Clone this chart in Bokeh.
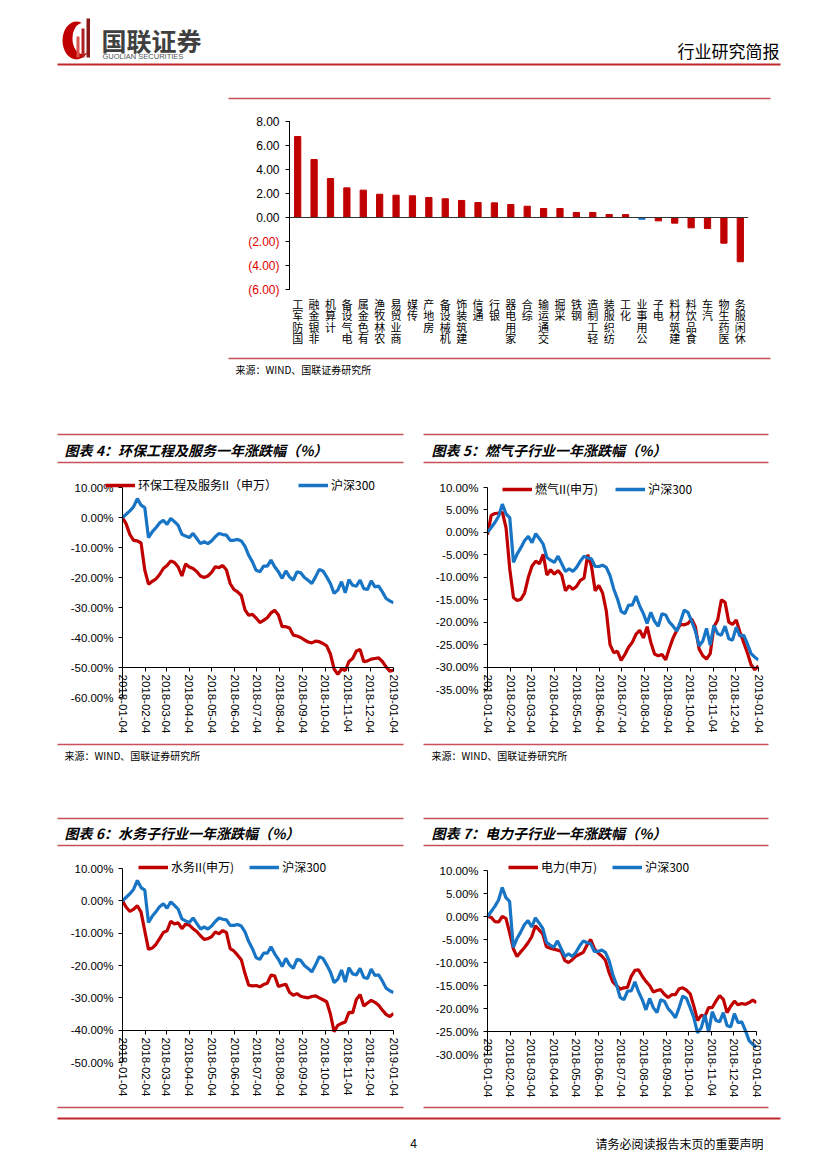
import pandas as pd
from datetime import datetime
from bokeh.plotting import figure
from bokeh.models import (Range1d, FixedTicker, PrintfTickFormatter,
                          CustomJSTickFormatter, Legend, LegendItem, Span, ColumnDataSource)
from bokeh.core.properties import value
from bokeh.embed import file_html
from bokeh.resources import INLINE

CJK = "Noto Sans CJK SC"
LAT = "Liberation Sans"
RED = "#C00000"
BLUE = "#1874C4"
RULE = "#C8505A"
DARK_RULE = "#C0282D"

# ------------------------------------------------------------------ data
industries = ["国防军工", "非银金融", "计算机", "电气设备", "有色金属", "农林牧渔", "商业贸易",
              "传媒", "房地产", "机械设备", "建筑装饰", "通信", "银行", "家用电器", "综合",
              "交通运输", "采掘", "钢铁", "轻工制造", "纺织服装", "化工", "公用事业", "电子",
              "建筑材料", "食品饮料", "汽车", "医药生物", "休闲服务"]
industry_change = [6.75, 4.83, 3.25, 2.47, 2.28, 1.94, 1.86, 1.81, 1.67, 1.56, 1.42, 1.25,
                   1.22, 1.08, 0.94, 0.75, 0.75, 0.42, 0.42, 0.25, 0.24, -0.15, -0.28, -0.47,
                   -0.86, -0.92, -2.14, -3.69]
bar_pos_ticks = [0, 2, 4, 6, 8]
bar_neg_ticks = [-6, -4, -2]

dates = ["2018-01-04", "2018-01-09", "2018-01-14", "2018-01-19", "2018-01-24", "2018-01-29",
         "2018-02-03", "2018-02-08", "2018-02-13", "2018-02-18", "2018-02-23", "2018-02-28",
         "2018-03-05", "2018-03-10", "2018-03-15", "2018-03-20", "2018-03-25", "2018-03-30",
         "2018-04-04", "2018-04-09", "2018-04-14", "2018-04-19", "2018-04-24", "2018-04-29",
         "2018-05-04", "2018-05-09", "2018-05-14", "2018-05-19", "2018-05-24", "2018-05-29",
         "2018-06-03", "2018-06-08", "2018-06-13", "2018-06-18", "2018-06-23", "2018-06-28",
         "2018-07-03", "2018-07-08", "2018-07-13", "2018-07-18", "2018-07-23", "2018-07-28",
         "2018-08-02", "2018-08-07", "2018-08-12", "2018-08-17", "2018-08-22", "2018-08-27",
         "2018-09-01", "2018-09-06", "2018-09-11", "2018-09-16", "2018-09-21", "2018-09-26",
         "2018-10-01", "2018-10-06", "2018-10-11", "2018-10-16", "2018-10-21", "2018-10-26",
         "2018-10-31", "2018-11-05", "2018-11-10", "2018-11-15", "2018-11-20", "2018-11-25",
         "2018-11-30", "2018-12-05", "2018-12-10", "2018-12-15", "2018-12-20", "2018-12-25",
         "2018-12-30", "2019-01-04"]
month_ticks = ["2018-01-04", "2018-02-04", "2018-03-04", "2018-04-04", "2018-05-04",
               "2018-06-04", "2018-07-04", "2018-08-04", "2018-09-04", "2018-10-04",
               "2018-11-04", "2018-12-04", "2019-01-04"]

hs300 = [0, 1.1, 2.2, 3.6, 6.3, 4.1, 3.3, -6.7, -4.8, -3.4,
         -1.8, -0.9, -2.3, -0.3, -1.4, -2.6, -5.6, -6.2, -6.7, -5.3,
         -7.0, -8.7, -8.1, -8.7, -7.8, -6.4, -5.3, -5.7, -5.9, -7.6,
         -7.6, -7.3, -7.8, -9.6, -12.6, -14.8, -17.6, -18.1, -16.2, -16.2,
         -14.2, -16.4, -18.1, -20.3, -17.8, -19.8, -20.9, -18.1, -18.4, -20.0,
         -20.9, -22.0, -19.8, -17.3, -17.8, -19.8, -22.0, -25.3, -24.2, -21.4,
         -25.1, -20.7, -22.6, -22.9, -20.9, -23.7, -24.0, -21.1, -23.1, -22.9,
         -24.8, -27.0, -27.8, -28.4]
huanbao = [0, -2.2, -5.7, -7.6, -7.8, -8.5, -17.5, -22.2, -21.3, -20.5,
           -19.0, -17.0, -16.0, -14.5, -15.0, -16.5, -19.5, -15.5, -16.5, -17.0,
           -18.0, -19.5, -20.0, -19.5, -18.3, -16.4, -16.7, -16.0, -17.5, -22.0,
           -24.0, -24.8, -26.0, -30.8, -32.6, -32.3, -33.5, -35.0, -34.3, -33.4,
           -31.8, -30.9, -32.5, -36.4, -36.4, -36.8, -39.2, -39.5, -40.0, -40.8,
           -41.5, -41.8, -41.2, -41.4, -42.0, -42.8, -45.5, -50.5, -52.3, -50.5,
           -51.0, -48.0, -47.0, -44.5, -44.0, -48.1, -47.8, -47.2, -47.0, -46.8,
           -48.0, -49.8, -51.2, -50.9]
ranqi = [-0.5, 3.8, 4.2, 4.3, 4.5, 1.0, -8.2, -14.5, -15.2, -14.9,
         -13.5, -10.0, -7.5, -6.4, -7.0, -4.9, -9.5, -8.3, -9.3, -8.5,
         -9.5, -13.0, -11.9, -12.7, -12.0, -10.7, -10.2, -5.0, -7.5, -13.0,
         -11.8, -13.5, -17.5, -25.0, -26.8, -26.5, -28.5, -27.2, -25.6, -24.5,
         -22.7, -21.8, -23.5, -21.0, -24.5, -27.1, -27.5, -27.2, -28.4, -25.8,
         -23.5, -21.8, -20.5, -20.6, -20.3, -19.3, -21.0, -26.0, -27.5, -28.2,
         -27.0, -21.0, -19.5, -15.0, -15.6, -20.0, -20.5, -19.5, -22.2, -24.5,
         -26.8, -29.5, -30.6, -29.7]
shuiwu = [0, -2.0, -3.3, -2.6, -1.5, -3.5, -9.3, -15.0, -14.6, -13.5,
          -11.7, -9.8, -9.3, -6.3, -7.2, -6.8, -8.6, -7.2, -7.5, -8.6,
          -9.5, -10.8, -11.9, -11.7, -11.1, -9.6, -10.2, -9.2, -9.8, -14.8,
          -15.5, -16.8, -18.2, -22.5, -26.1, -26.3, -26.2, -26.6, -25.9, -25.5,
          -23.0, -23.2, -26.5, -26.1, -25.8, -28.3, -29.2, -28.7, -29.5, -29.8,
          -30.0, -29.6, -29.4, -30.0, -30.6, -31.2, -35.0, -40.5, -38.5, -37.9,
          -37.5, -34.5, -34.6, -30.5, -29.0, -32.5, -31.6, -30.8, -31.4, -32.3,
          -33.8, -35.1, -35.8, -34.8]
dianli = [0, -0.2, -1.1, -1.2, 0.0, -0.4, -3.5, -7.0, -8.7, -7.7,
          -6.8, -5.7, -4.4, -2.0, -2.9, -3.8, -6.6, -6.9, -7.1, -7.3,
          -7.6, -9.6, -10.0, -9.4, -8.6, -8.2, -7.8, -6.2, -5.0, -7.0,
          -7.9, -8.6, -9.5, -12.2, -14.2, -15.0, -15.8, -15.5, -15.4, -13.0,
          -11.7, -11.6, -13.0, -14.1, -15.0, -16.4, -16.1, -15.9, -16.9, -17.6,
          -17.0, -17.0, -15.7, -15.5, -16.0, -16.8, -19.5, -22.6, -21.5, -21.7,
          -19.8, -19.8, -18.4, -17.2, -18.0, -20.9, -19.5, -18.4, -19.2, -18.9,
          -19.1, -18.7, -18.2, -18.7]

c4_yticks = [10, 0, -10, -20, -30, -40, -50, -60]
c5_yticks = [10, 5, 0, -5, -10, -15, -20, -25, -30, -35]
c6_yticks = [10, 0, -10, -20, -30, -40, -50]
c7_yticks = [10, 5, 0, -5, -10, -15, -20, -25, -30]

# ------------------------------------------------------------------ helpers
date_index = pd.to_datetime(dates)
month_ms = [pd.Timestamp(s).timestamp() * 1000 for s in month_ticks]
X0 = datetime(2018, 1, 4)
X1 = datetime(2019, 1, 4)
LINE_W = 3.2
roots = []


def frame_fig(fx0, fy0, fx1, fy1, bl, bt, br, bb, **kw):
    """A figure whose plot frame sits at the given page pixel box."""
    w = fx1 - fx0 + bl + br
    h = fy1 - fy0 + bt + bb
    p = figure(width=w, height=h, output_backend="svg", toolbar_location=None,
               min_border_left=bl, min_border_right=br, min_border_top=bt, min_border_bottom=bb,
               styles={"position": "absolute", "left": f"{fx0 - bl}px", "top": f"{fy0 - bt}px"},
               **kw)
    p.grid.visible = False
    p.outline_line_color = None
    p.background_fill_color = None
    p.border_fill_color = None
    roots.append(p)
    return p


def style_axis(ax, size="11.5px", color="#000000", font=LAT, tick_out=4, standoff=5):
    ax.minor_tick_line_color = None
    ax.major_tick_out = tick_out
    ax.major_tick_in = 0
    ax.major_label_standoff = standoff
    ax.major_label_text_font = font
    ax.major_label_text_font_size = size
    ax.major_label_text_color = color
    ax.axis_line_color = "#000000"
    ax.major_tick_line_color = "#000000"


def txt(p, x, y, s, size, color="#000000", font=CJK, style="normal", align="left"):
    p.text(x=[x], y=[y], text=[s], text_font=value(font), text_font_size=f"{size}px",
           text_font_style=style, text_color=color, text_align=align, text_baseline="middle")


def rule(p, x0, x1, y, color=RULE, w=1.5):
    p.segment(x0=[x0], y0=[y], x1=[x1], y1=[y], line_color=color, line_width=w)


def line_chart(fx0, fy0, fx1, fy1, cross_y, yticks, cross, name, values, lx, lcy, lsp):
    src = ColumnDataSource(dict(d=date_index, s=values, h=hs300))

    # main frame: the two series + y axis
    p = frame_fig(fx0, fy0, fx1, fy1, 70, 10, 10, 10, x_axis_type="datetime",
                  x_range=Range1d(X0, X1), y_range=Range1d(yticks[-1], yticks[0]),
                  x_axis_location=None)
    p.line("d", "s", source=src, line_color=RED, line_width=LINE_W)
    p.line("d", "h", source=src, line_color=BLUE, line_width=LINE_W)
    ya = p.yaxis[0]
    ya.ticker = FixedTicker(ticks=yticks)
    ya.formatter = PrintfTickFormatter(format="%.2f%%")
    style_axis(ya)

    # overlay frame whose bottom edge is the crossing value: holds the date axis
    q = frame_fig(fx0, fy0, fx1, cross_y, 12, 5, 12, 78, x_axis_type="datetime",
                  x_range=Range1d(X0, X1), y_range=Range1d(cross, yticks[0]),
                  y_axis_location=None)
    xa = q.xaxis[0]
    xa.ticker = FixedTicker(ticks=month_ms)
    xa.formatter = CustomJSTickFormatter(code="return new Date(tick).toISOString().slice(0, 10);")
    xa.major_label_orientation = "vertical"
    style_axis(xa, standoff=3)

    # overlay frame for the legend, straddling the top edge of the plot
    # (same series, but its y range keeps them out of view: only the legend shows)
    lx0, ly0, lx1, ly1 = fx0 - 40, fy0 - 14, fx1, fy0 + 14
    g = frame_fig(lx0, ly0, lx1, ly1, 0, 0, 0, 0, x_axis_type="datetime",
                  x_range=Range1d(X0, X1), y_range=Range1d(1000, 1001),
                  x_axis_location=None, y_axis_location=None)
    k1 = g.line("d", "s", source=src, line_color=RED, line_width=3.5)
    k2 = g.line("d", "h", source=src, line_color=BLUE, line_width=3.5)
    legend = Legend(items=[LegendItem(label=name, renderers=[k1]),
                           LegendItem(label="沪深300", renderers=[k2])],
                    location=(lx - lx0, ly1 - lcy - 7), orientation="horizontal",
                    padding=0, margin=0, spacing=lsp, glyph_width=30, glyph_height=12,
                    label_standoff=3, label_height=12, label_text_font=CJK,
                    label_text_font_size="12px", label_text_color="#000000",
                    border_line_color=None, background_fill_alpha=0)
    g.add_layout(legend)
    return p


# ------------------------------------------------------------------ page decorations
d = figure(width=811, height=1153, x_range=Range1d(8, 819), y_range=Range1d(1161, 8),
           x_axis_location=None, y_axis_location=None, output_backend="svg",
           toolbar_location=None, min_border=0,
           styles={"position": "absolute", "left": "8px", "top": "8px"})
d.grid.visible = False
d.outline_line_color = None
roots.append(d)

# header
d.ellipse(x=[76], y=[40], width=[28], height=[38], fill_color=RED, line_color=None)
d.ellipse(x=[82], y=[38], width=[20], height=[31], fill_color="white", line_color=None)
d.quad(left=[76, 81, 86], right=[79, 84, 89.5], top=[36, 28, 18], bottom=[57, 57, 57],
       fill_color=["#d9534f", "#b02020", "#8a1818"], line_color=None)
txt(d, 101, 39, "国联证券", 25, color="#404040", style="bold")
txt(d, 102, 56, "GUOLIAN SECURITIES", 7.5, color="#555555", font=LAT)
txt(d, 779, 50, "行业研究简报", 17, align="right")
rule(d, 57, 780, 64, color=DARK_RULE, w=2)
rule(d, 228, 770, 98)

# bar chart surroundings
rule(d, 228, 770, 358)
txt(d, 235, 369, "来源：WIND、国联证券研究所", 10)

# charts 4/5 surroundings
rule(d, 57, 403, 434)
rule(d, 423, 768, 434)
txt(d, 64, 449, "图表 4：环保工程及服务一年涨跌幅（%）", 14, style="bold italic")
txt(d, 431, 449, "图表 5：燃气子行业一年涨跌幅（%）", 14, style="bold italic")
rule(d, 57, 403, 462)
rule(d, 423, 768, 462)
rule(d, 57, 403, 744)
rule(d, 423, 768, 744)
txt(d, 64, 755, "来源：WIND、国联证券研究所", 10)
txt(d, 431, 755, "来源：WIND、国联证券研究所", 10)

# charts 6/7 surroundings
rule(d, 57, 403, 818)
rule(d, 423, 768, 818)
txt(d, 64, 832, "图表 6：水务子行业一年涨跌幅（%）", 14, style="bold italic")
txt(d, 431, 832, "图表 7：电力子行业一年涨跌幅（%）", 14, style="bold italic")
rule(d, 57, 403, 845)
rule(d, 423, 768, 845)
rule(d, 57, 403, 1107)
rule(d, 423, 768, 1107)

# footer
rule(d, 57, 780, 1118, color=DARK_RULE, w=2)
txt(d, 413, 1143, "4", 12, font=LAT, align="center")
txt(d, 595, 1143, "请务必阅读报告末页的重要声明", 12)

# ------------------------------------------------------------------ bar chart
bar_x = [i + 0.5 for i in range(len(industries))]
bar_colors = [BLUE if n == "公用事业" else RED for n in industries]
bar = frame_fig(289, 121, 748, 289, 60, 10, 10, 72,
                x_range=Range1d(0, len(industries)), y_range=Range1d(-6, 8))
bar.vbar(x="x", top="chg", width=0.38, fill_color="color", line_color="color",
         source=ColumnDataSource(dict(x=bar_x, chg=industry_change, color=bar_colors)))
bar.add_layout(Span(location=0, dimension="width", line_color="#333333", line_width=1))

bx = bar.xaxis[0]
bx.ticker = FixedTicker(ticks=bar_x)
bx.formatter = CustomJSTickFormatter(
    args=dict(names=industries),
    code="const n = names[Math.floor(tick)]; return n ? n.split('').reverse().join('\\n') : '';")
style_axis(bx, size="11px", font=CJK, tick_out=0, standoff=6)
bx.axis_line_color = None
bx.major_tick_line_color = None
bx.major_label_text_line_height = 0.72

by = bar.yaxis[0]
by.ticker = FixedTicker(ticks=bar_pos_ticks)
by.formatter = PrintfTickFormatter(format="%.2f")
style_axis(by, size="12px", standoff=6)

# overlay with the negative (red) tick labels on the same frame
neg = frame_fig(289, 121, 748, 289, 60, 10, 10, 10,
                x_range=Range1d(0, len(industries)), y_range=Range1d(-6, 8),
                x_axis_location=None)
ny = neg.yaxis[0]
ny.ticker = FixedTicker(ticks=bar_neg_ticks)
ny.formatter = CustomJSTickFormatter(code="return '(' + Math.abs(tick).toFixed(2) + ')';")
style_axis(ny, size="12px", color="#E00000", standoff=6)

# ------------------------------------------------------------------ line charts
line_chart(122, 487, 393, 697, 667, c4_yticks, -50, "环保工程及服务II（申万）",
           huanbao, 105, 486, 21)
line_chart(487, 487, 758, 689, 667, c5_yticks, -30, "燃气II(申万)",
           ranqi, 502, 490, 17)
line_chart(122, 868, 393, 1062, 1030, c6_yticks, -40, "水务II(申万)",
           shuiwu, 138, 868, 15)
line_chart(487, 870, 756, 1054, 1031, c7_yticks, -25, "电力(申万)",
           dianli, 508, 868, 15)

open("out.html", "w").write(file_html(roots, INLINE))
